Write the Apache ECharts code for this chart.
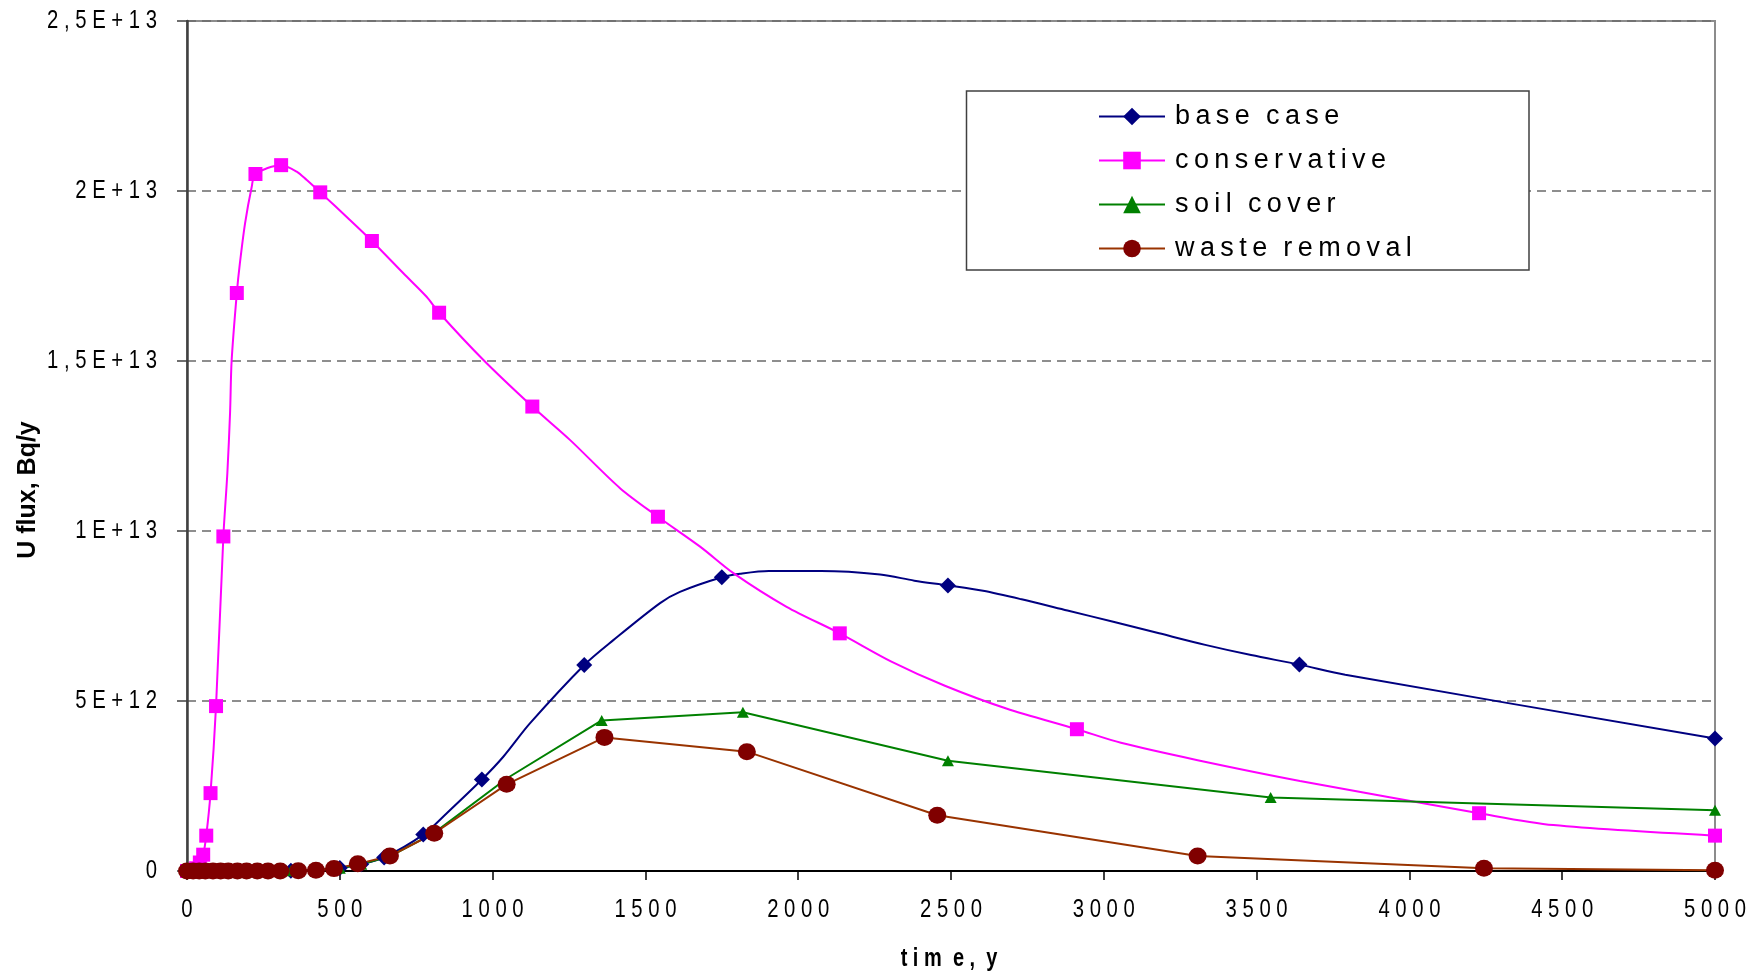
<!DOCTYPE html>
<html>
<head>
<meta charset="utf-8">
<script src="https://cdn.jsdelivr.net/npm/echarts@6/dist/echarts.min.js"></script>
<style>
  html, body { margin: 0; padding: 0; background: #ffffff; }
  #chart { width: 1754px; height: 972px; }
</style>
</head>
<body>
<div id="chart"></div>
<script>
// Uranium flux (Bq/y) over time (y) for four remediation scenarios.
const FONT = "'Liberation Sans', Arial, sans-serif";
const THIN = '\u2009';

const seriesNames = ['base case', 'conservative', 'soil cover', 'waste removal'];
const xTickValues = [0, 500, 1000, 1500, 2000, 2500, 3000, 3500, 4000, 4500, 5000];
const xTickLabels = ['0', '500', '1000', '1500', '2000', '2500', '3000', '3500', '4000', '4500', '5000'];
const yTickValues = [0, 5e12, 1e13, 1.5e13, 2e13, 2.5e13];
const yTickLabels = ['0', '5E+12', '1E+13', '1,5E+13', '2E+13', '2,5E+13'];

// base case
const baseTime = [0, 40, 80, 130, 190, 260, 340, 420, 500, 570, 645, 773, 850, 965, 1035, 1122, 1300, 1395, 1548, 1613, 1750, 1810, 1904, 2075, 2268, 2380, 2490, 2605, 2731, 2881, 3031, 3181, 3332, 3482, 3640, 3790, 5000];
const baseFlux = [0, 0, 0, 0, 0, 0, 0.01e12, 0.03e12, 0.09e12, 0.2e12, 0.4e12, 1.07e12, 1.70e12, 2.69e12, 3.36e12, 4.34e12, 6.06e12, 6.79e12, 7.88e12, 8.21e12, 8.64e12, 8.74e12, 8.82e12, 8.82e12, 8.72e12, 8.54e12, 8.40e12, 8.24e12, 7.99e12, 7.66e12, 7.33e12, 6.99e12, 6.65e12, 6.35e12, 6.07e12, 5.77e12, 3.90e12];
const baseMarked = [0, 40, 80, 130, 190, 260, 340, 420, 500, 570, 645, 773, 965, 1300, 1750, 2490, 3640, 5000];

// conservative
const consTime = [0, 15, 30, 42, 53, 63, 77, 95, 119, 132, 141, 146, 163, 173, 190, 212, 224, 308, 359, 392, 436, 533, 605, 708, 784, 825, 970, 1130, 1253, 1417, 1541, 1679, 1788, 1962, 2136, 2305, 2480, 2681, 2912, 3056, 3307, 3642, 4228, 4471, 5000];
const consFlux = [0, 0.01e12, 0.08e12, 0.25e12, 0.48e12, 1.04e12, 2.29e12, 4.85e12, 9.84e12, 11.7e12, 13.5e12, 15.0e12, 17.0e12, 17.87e12, 19.05e12, 20.13e12, 20.5e12, 20.76e12, 20.57e12, 20.32e12, 19.96e12, 19.15e12, 18.53e12, 17.58e12, 16.89e12, 16.42e12, 15.03e12, 13.66e12, 12.68e12, 11.26e12, 10.42e12, 9.54e12, 8.76e12, 7.77e12, 6.99e12, 6.16e12, 5.45e12, 4.78e12, 4.17e12, 3.77e12, 3.26e12, 2.65e12, 1.70e12, 1.35e12, 1.04e12];
const consMarked = [0, 15, 30, 42, 53, 63, 77, 95, 119, 163, 224, 308, 436, 605, 825, 1130, 1541, 2136, 2912, 4228, 5000];

// soil cover
const soilTime = [0, 50, 110, 180, 260, 340, 420, 500, 570, 664, 809, 1046, 1357, 1819, 2490, 3546, 5000];
const soilFlux = [0, 0, 0, 0, 0, 0.01e12, 0.03e12, 0.08e12, 0.2e12, 0.43e12, 1.12e12, 2.72e12, 4.43e12, 4.67e12, 3.24e12, 2.16e12, 1.79e12];
const soilMarked = [0, 50, 110, 180, 260, 340, 420, 500, 570, 664, 809, 1357, 1819, 2490, 3546, 5000];

// waste removal
const wasteTime = [0, 20, 40, 60, 85, 110, 135, 165, 195, 230, 265, 305, 364, 422, 481, 559, 664, 809, 1046, 1366, 1832, 2455, 3307, 4244, 5000];
const wasteFlux = [0, 0, 0, 0, 0, 0, 0, 0, 0, 0, 0, 0, 0.005e12, 0.02e12, 0.07e12, 0.21e12, 0.44e12, 1.11e12, 2.55e12, 3.93e12, 3.51e12, 1.64e12, 0.44e12, 0.08e12, 0.02e12];
const wasteMarked = wasteTime.slice();

// Letter-spaced text, the way the labels are typeset on this chart.
function spread(s, gap) {
  return s.split('').map(function (c) { return c === ' ' ? gap : c; }).join(gap);
}

function buildData(times, flux, marked) {
  return times.map(function (t, i) {
    const item = { value: [t, flux[i]] };
    if (marked.indexOf(t) < 0) item.symbol = 'none';
    return item;
  });
}

const chart = echarts.init(document.getElementById('chart'), null, { renderer: 'canvas' });

const baseGraphics = [
  {
    id: 'legendBox', type: 'rect', z: 1,
    shape: { x: 966.5, y: 91, width: 562.5, height: 179 },
    style: { fill: '#ffffff', stroke: '#404040', lineWidth: 1.5 }
  },
  {
    id: 'yTitle', type: 'text', z: 5, x: 28, y: 490, rotation: Math.PI / 2,
    style: { text: 'U flux, Bq/y', font: 'bold 25px ' + FONT, fill: '#000000', align: 'center', verticalAlign: 'middle' }
  },
  {
    id: 'xTitle', type: 'text', z: 5, x: 949, y: 959, scaleX: 0.8,
    style: { text: 't i m  e ,  y', font: 'bold 25px ' + FONT, fill: '#000000', align: 'center', verticalAlign: 'middle' }
  }
];

const option = {
  animation: false,
  backgroundColor: '#ffffff',
  grid: {
    left: 187, right: 39, top: 21, bottom: 101,
    show: true, borderColor: '#8c8c8c', borderWidth: 2, backgroundColor: 'transparent'
  },
  xAxis: {
    type: 'value', min: 0, max: 5000, interval: 500,
    axisLine: { show: true, onZero: false, lineStyle: { color: '#000000', width: 2 } },
    axisTick: { show: true, length: 9, lineStyle: { color: '#000000', width: 1.5 } },
    axisLabel: { show: false },
    splitLine: { show: false }
  },
  yAxis: {
    type: 'value', min: 0, max: 2.5e13, interval: 5e12,
    axisLine: { show: true, lineStyle: { color: '#404040', width: 2.5 } },
    axisTick: { show: true, length: 10, lineStyle: { color: '#404040', width: 1.5 } },
    axisLabel: { show: false },
    splitLine: { show: true, lineStyle: { color: '#6a6a6a', width: 1.5, type: [9, 6] } }
  },
  legend: {
    orient: 'vertical', left: 1098, top: 103, padding: 0,
    itemWidth: 66, itemHeight: 22, itemGap: 17,
    data: seriesNames,
    formatter: function (name) { return spread(name, THIN); },
    textStyle: { fontSize: 27, fontFamily: FONT, color: '#000000', padding: [0, 0, 0, 5] }
  },
  graphic: baseGraphics,
  series: [
    {
      name: seriesNames[0], type: 'line', smooth: 0.3, showAllSymbol: true,
      symbol: 'diamond', symbolSize: [16, 16],
      lineStyle: { color: '#000080', width: 2 }, itemStyle: { color: '#000080' },
      emphasis: { disabled: true },
      data: buildData(baseTime, baseFlux, baseMarked)
    },
    {
      name: seriesNames[1], type: 'line', smooth: 0.3, showAllSymbol: true,
      symbol: 'rect', symbolSize: 14,
      lineStyle: { color: '#ff00ff', width: 2 }, itemStyle: { color: '#ff00ff' },
      emphasis: { disabled: true },
      data: buildData(consTime, consFlux, consMarked)
    },
    {
      name: seriesNames[2], type: 'line', smooth: false, showAllSymbol: true,
      symbol: 'triangle', symbolSize: [12, 11],
      lineStyle: { color: '#008000', width: 2 }, itemStyle: { color: '#008000' },
      emphasis: { disabled: true },
      data: buildData(soilTime, soilFlux, soilMarked)
    },
    {
      name: seriesNames[3], type: 'line', smooth: false, showAllSymbol: true,
      symbol: 'circle', symbolSize: [18, 17],
      lineStyle: { color: '#993300', width: 2 }, itemStyle: { color: '#800000' },
      emphasis: { disabled: true },
      data: buildData(wasteTime, wasteFlux, wasteMarked)
    }
  ]
};

chart.setOption(option);

// Tick labels in a condensed face, placed at the axis' own tick positions.
const tickGraphics = [];
xTickValues.forEach(function (v, i) {
  const p = chart.convertToPixel({ gridIndex: 0 }, [v, 0]);
  tickGraphics.push({
    id: 'xt' + i, type: 'text', z: 5, x: p[0], y: p[1] + 39, scaleX: 0.78,
    style: { text: spread(xTickLabels[i], ' '), font: '26px ' + FONT, fill: '#000000', align: 'center', verticalAlign: 'middle' }
  });
});
yTickValues.forEach(function (v, i) {
  const p = chart.convertToPixel({ gridIndex: 0 }, [0, v]);
  tickGraphics.push({
    id: 'yt' + i, type: 'text', z: 5, x: p[0] - 30, y: p[1], scaleX: 0.78,
    style: { text: spread(yTickLabels[i], ' '), font: '26px ' + FONT, fill: '#000000', align: 'right', verticalAlign: 'middle' }
  });
});
chart.setOption({ graphic: baseGraphics.concat(tickGraphics) });
</script>
</body>
</html>
